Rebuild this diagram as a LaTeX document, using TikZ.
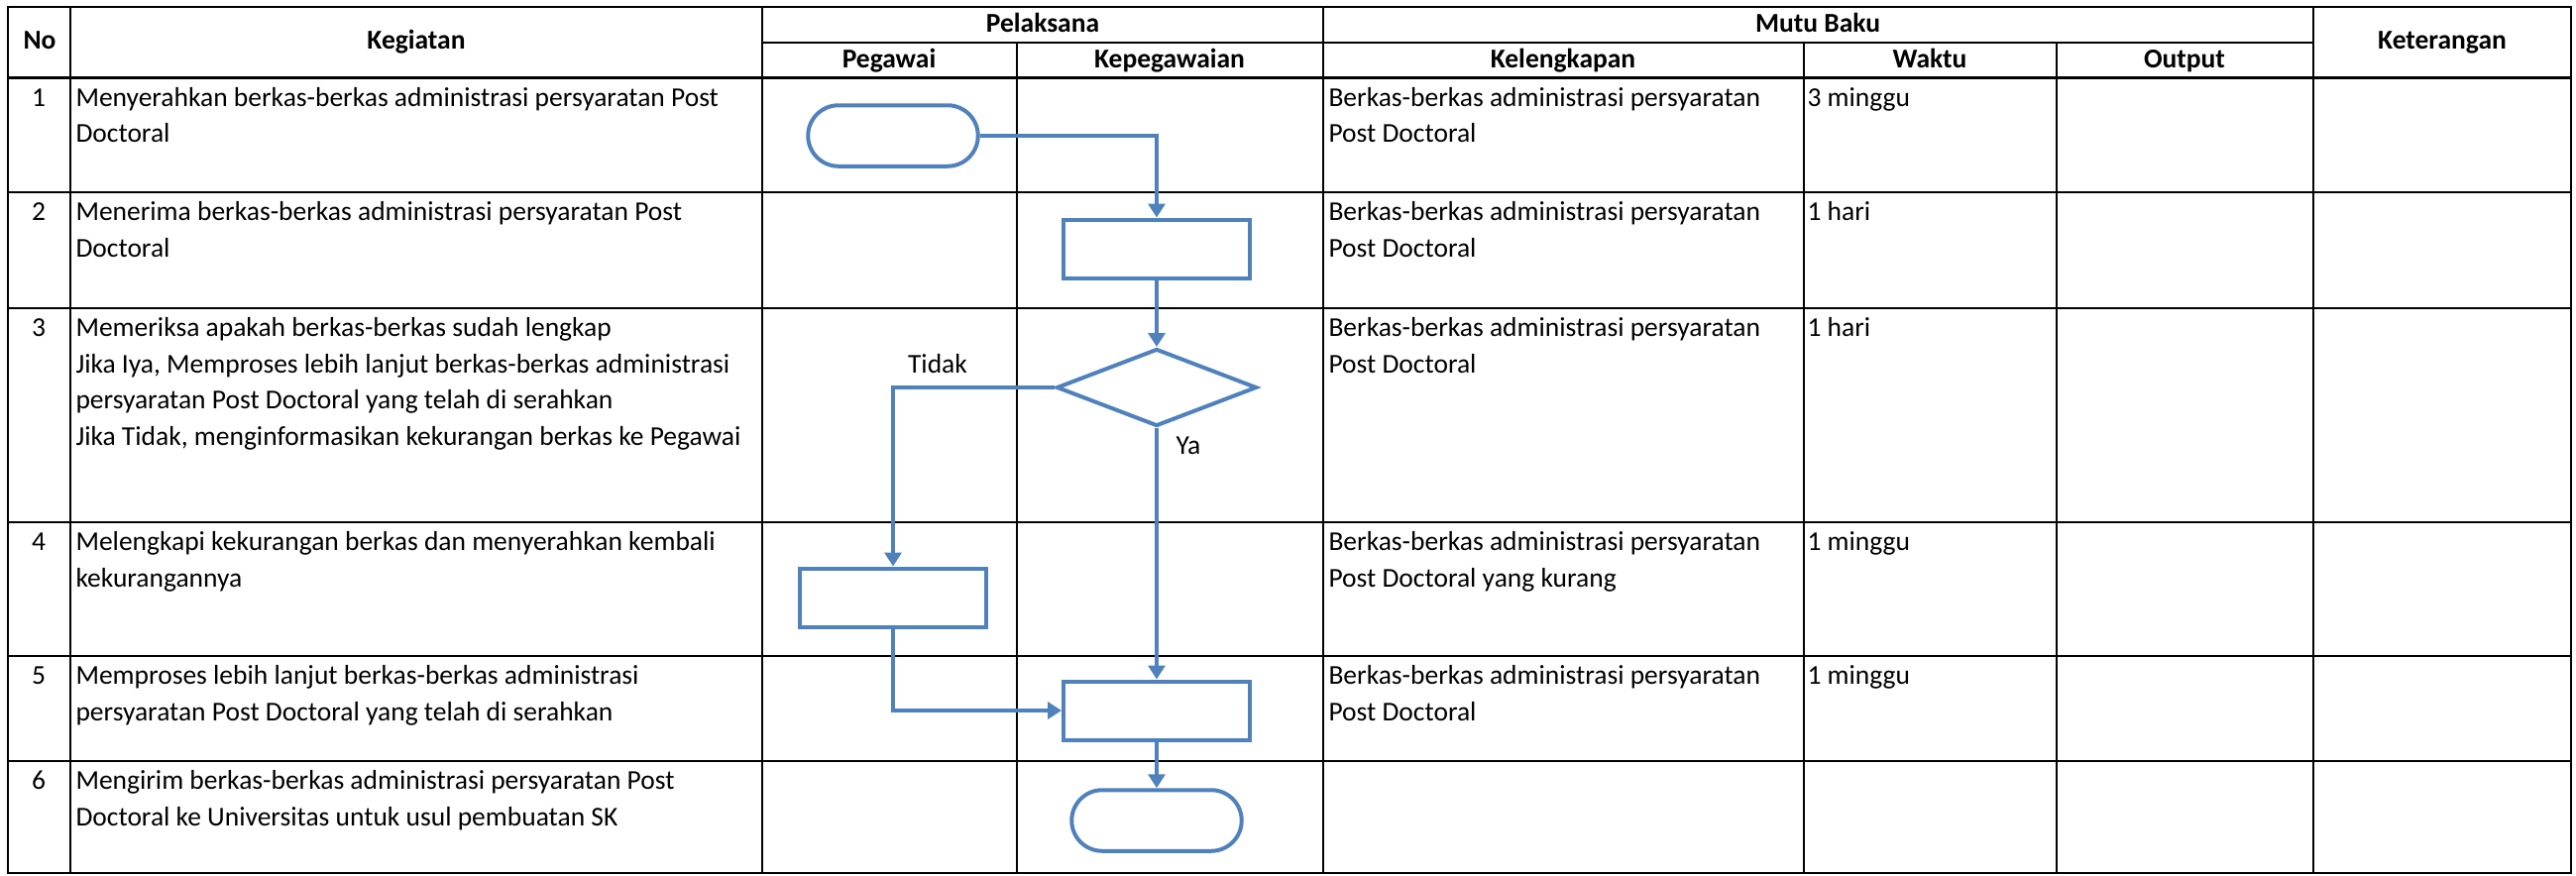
\documentclass[tikz,border=0pt]{standalone}
\usepackage{fontspec}
\setmainfont{Carlito}
\usetikzlibrary{shapes.geometric,shapes.misc,arrows.meta}
\definecolor{flowblue}{RGB}{79,129,189}
\def\outerframe{(8,7) rectangle (2594,881)}
\def\txt{\fontsize{11}{14.6}\selectfont}
\tikzset{
  cell/.style={anchor=north west,inner sep=0pt,align=left,font=\txt},
  num/.style={anchor=north,inner sep=0pt,font=\txt},
  head/.style={inner sep=0pt,text height=7.6pt,text depth=2.3pt,font=\txt\bfseries},
  grid/.style={line width=1pt},
  process/.style={draw=flowblue,line width=1.6pt,rectangle,minimum width=75.2pt,minimum height=23.6pt,inner sep=0pt},
  terminal/.style={draw=flowblue,line width=1.6pt,rounded rectangle,minimum width=68.6pt,minimum height=24.6pt,inner sep=0pt},
  decision/.style={draw=flowblue,line width=1.6pt,diamond,minimum width=80.8pt,minimum height=31.2pt,inner sep=0pt},
  flow/.style={draw=flowblue,line width=1.6pt,-{Triangle[width=6.8pt,length=5.6pt]}},
  branch/.style={inner sep=0pt,font=\txt}
}
\begin{document}
\begin{tikzpicture}[x=0.4pt,y=-0.4pt]
\useasboundingbox (0,0) rectangle (2599,883);

%drawing the table
\draw[grid] \outerframe;
\draw[grid] (769,43) -- (2334,43);
\draw[grid] (8,78.5) -- (2594,78.5);
\draw[grid] (8,194) -- (2594,194);
\draw[grid] (8,311) -- (2594,311);
\draw[grid] (8,527) -- (2594,527);
\draw[grid] (8,662) -- (2594,662);
\draw[grid] (8,768) -- (2594,768);
\draw[grid] (71,7) -- (71,881);
\draw[grid] (769,7) -- (769,881);
\draw[grid] (1026,43) -- (1026,881);
\draw[grid] (1335,7) -- (1335,881);
\draw[grid] (1820,43) -- (1820,881);
\draw[grid] (2075,43) -- (2075,881);
\draw[grid] (2334,7) -- (2334,881);

%header
\node[head] (hno) at (40,43) {No};
\node[head] (hkeg) at (420,43) {Kegiatan};
\node[head] (hpel) at (1052,26) {Pelaksana};
\node[head] (hpeg) at (897,62) {Pegawai};
\node[head] (hkep) at (1180,62) {Kepegawaian};
\node[head] (hmutu) at (1834,26) {Mutu Baku};
\node[head] (hkel) at (1577,62) {Kelengkapan};
\node[head] (hwak) at (1947,62) {Waktu};
\node[head] (hout) at (2204,62) {Output};
\node[head] (hket) at (2464,43) {Keterangan};

%rows
\node[num] (n1) at (39,81) {\strut 1};
\node[num] (n2) at (39,196.5) {\strut 2};
\node[num] (n3) at (39,313.5) {\strut 3};
\node[num] (n4) at (39,529.5) {\strut 4};
\node[num] (n5) at (39,664.5) {\strut 5};
\node[num] (n6) at (39,770.5) {\strut 6};

\node[cell] (keg1) at (76,81) {\strut Menyerahkan berkas-berkas administrasi persyaratan Post\\Doctoral};
\node[cell] (keg2) at (76,196.5) {\strut Menerima berkas-berkas administrasi persyaratan Post\\Doctoral};
\node[cell] (keg3) at (76,313.5) {\strut Memeriksa apakah berkas-berkas sudah lengkap\\Jika Iya, Memproses lebih lanjut berkas-berkas administrasi\\persyaratan Post Doctoral yang telah di serahkan\\Jika Tidak, menginformasikan kekurangan berkas ke Pegawai};
\node[cell] (keg4) at (76,529.5) {\strut Melengkapi kekurangan berkas dan menyerahkan kembali\\kekurangannya};
\node[cell] (keg5) at (76,664.5) {\strut Memproses lebih lanjut berkas-berkas administrasi\\persyaratan Post Doctoral yang telah di serahkan};
\node[cell] (keg6) at (76,770.5) {\strut Mengirim berkas-berkas administrasi persyaratan Post\\Doctoral ke Universitas untuk usul pembuatan SK};

\node[cell] (kel1) at (1340,81) {\strut Berkas-berkas administrasi persyaratan\\Post Doctoral};
\node[cell] (kel2) at (1340,196.5) {\strut Berkas-berkas administrasi persyaratan\\Post Doctoral};
\node[cell] (kel3) at (1340,313.5) {\strut Berkas-berkas administrasi persyaratan\\Post Doctoral};
\node[cell] (kel4) at (1340,529.5) {\strut Berkas-berkas administrasi persyaratan\\Post Doctoral yang kurang};
\node[cell] (kel5) at (1340,664.5) {\strut Berkas-berkas administrasi persyaratan\\Post Doctoral};

\node[cell] (wak1) at (1823,81) {\strut 3 minggu};
\node[cell] (wak2) at (1823,196.5) {\strut 1 hari};
\node[cell] (wak3) at (1823,313.5) {\strut 1 hari};
\node[cell] (wak4) at (1823,529.5) {\strut 1 minggu};
\node[cell] (wak5) at (1823,664.5) {\strut 1 minggu};

%flowchart
\node[terminal] (start) at (901,137) {};
\node[process] (terima) at (1167,251) {};
\node[decision] (periksa) at (1167,391) {};
\node[process] (lengkapi) at (901,603) {};
\node[process] (proses) at (1167,717) {};
\node[terminal] (kirim) at (1167,828) {};

\draw[flow] (start) -| (terima);
\draw[flow] (terima) -- (periksa);
\draw[flow] (periksa) -| (lengkapi);
\draw[flow] (periksa) -- (proses);
\draw[flow] (lengkapi) |- (proses);
\draw[flow] (proses) -- (kirim);

\node[branch] (tidak) at (946,367) {Tidak};
\node[branch] (ya) at (1199,450) {Ya};
\end{tikzpicture}
\end{document}
